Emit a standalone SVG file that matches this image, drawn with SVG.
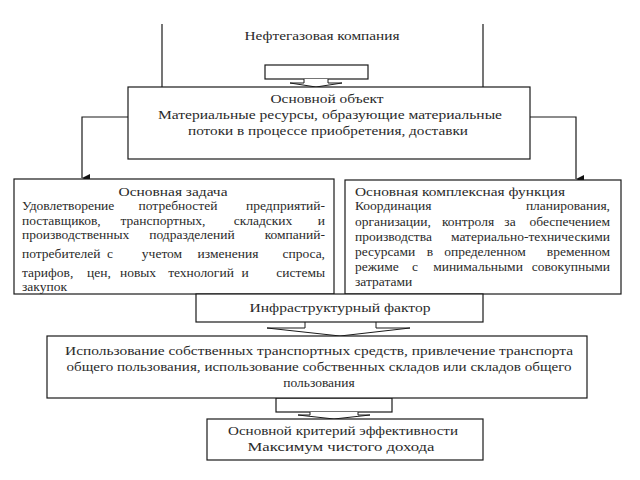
<svg xmlns="http://www.w3.org/2000/svg" width="640" height="480" viewBox="0 0 640 480">
<defs>
<style>
.box{fill:#fff;stroke:#1a1a1a;stroke-width:1.2}
.ln{fill:none;stroke:#1a1a1a;stroke-width:1.2}
.blk{fill:#fff;stroke:#1a1a1a;stroke-width:1}
text{font-family:"Liberation Serif","Times New Roman",serif;font-size:13.5px;fill:#2a2a2a}
.c{text-anchor:middle}
.e{text-anchor:end}
</style>
<marker id="ah" viewBox="0 0 10 10" refX="5" refY="10" markerWidth="8" markerHeight="8" markerUnits="userSpaceOnUse" orient="auto-start-reverse">
<path d="M0,0 L10,0 L5,10 Z" fill="#111"/>
</marker>
</defs>
<rect width="640" height="480" fill="#fff"/>

<g id="company">
<line class="ln" x1="162" y1="24" x2="162" y2="87"/>
<line class="ln" x1="483" y1="24" x2="483" y2="87"/>
<text class="c" x="322" y="40" textLength="155" lengthAdjust="spacingAndGlyphs">Нефтегазовая компания</text>
<rect class="box" x="265" y="65" width="103" height="14"/>
</g>

<g id="connectors">
<path class="blk" d="M304,79 L304,83 L290,83 L316,87 L342,83 L328,83 L328,79"/>
<path class="ln" d="M128,117 L82,117 L82,178" marker-end="url(#ah)"/>
<path class="ln" d="M530,117 L576,117 L576,179" marker-end="url(#ah)"/>
<path class="blk" d="M305,322 L305,328 L267,328 L340,336 L410,328 L376,328 L376,322"/>
<rect class="box" x="276" y="398" width="116" height="14"/>
<path class="blk" d="M310,412 L310,415 L298,415 L334,419 L370,415 L358,415 L358,412"/>
</g>

<g id="object">
<rect class="box" x="128" y="87" width="402" height="72"/>
<text class="c" x="327" y="103" textLength="113" lengthAdjust="spacingAndGlyphs">Основной объект</text>
<text class="c" x="330" y="119" textLength="344" lengthAdjust="spacingAndGlyphs">Материальные ресурсы, образующие  материальные</text>
<text class="c" x="328" y="135" textLength="280" lengthAdjust="spacingAndGlyphs">потоки в процессе приобретения, доставки</text>
</g>

<g id="task">
<rect class="box" x="14" y="179" width="320" height="115"/>
<text class="c" x="173" y="196" textLength="109" lengthAdjust="spacingAndGlyphs">Основная задача</text>
<text y="210"><tspan x="22">Удовлетворение</tspan><tspan x="178" class="c">потребностей</tspan><tspan x="325" class="e">предприятий-</tspan></text>
<text y="225"><tspan x="22">поставщиков,</tspan><tspan x="163" class="c">транспортных,</tspan><tspan x="263" class="c">складских</tspan><tspan x="325" class="e">и</tspan></text>
<text y="239"><tspan x="22">производственных</tspan><tspan x="192" class="c">подразделений</tspan><tspan x="325" class="e">компаний-</tspan></text>
<text y="258"><tspan x="22">потребителей</tspan><tspan x="110" class="c">с</tspan><tspan x="162" class="c">учетом</tspan><tspan x="228" class="c">изменения</tspan><tspan x="325" class="e">спроса,</tspan></text>
<text y="277"><tspan x="22">тарифов,</tspan><tspan x="99" class="c">цен,</tspan><tspan x="138" class="c">новых</tspan><tspan x="201" class="c">технологий</tspan><tspan x="245" class="c">и</tspan><tspan x="325" class="e">системы</tspan></text>
<text x="22" y="291">закупок</text>
</g>

<g id="function">
<rect class="box" x="345" y="180" width="276" height="114"/>
<text x="355" y="196" textLength="210" lengthAdjust="spacingAndGlyphs">Основная комплексная функция</text>
<text y="210"><tspan x="355">Координация</tspan><tspan x="610" class="e">планирования,</tspan></text>
<text y="226"><tspan x="355">организации,</tspan><tspan x="468" class="c">контроля</tspan><tspan x="510" class="c">за</tspan><tspan x="610" class="e">обеспечением</tspan></text>
<text y="241"><tspan x="355">производства</tspan><tspan x="610" class="e">материально-техническими</tspan></text>
<text y="256"><tspan x="355">ресурсами</tspan><tspan x="430" class="c">в</tspan><tspan x="485" class="c">определенном</tspan><tspan x="610" class="e">временном</tspan></text>
<text y="271"><tspan x="355">режиме</tspan><tspan x="415" class="c">с</tspan><tspan x="478" class="c">минимальными</tspan><tspan x="610" class="e">совокупными</tspan></text>
<text x="355" y="286">затратами</text>
</g>

<g id="infra">
<rect class="box" x="196" y="294" width="287" height="28"/>
<text class="c" x="340" y="312" textLength="181" lengthAdjust="spacingAndGlyphs">Инфраструктурный фактор</text>
</g>

<g id="means">
<rect class="box" x="47" y="336" width="540" height="62"/>
<text class="c" x="319" y="355" textLength="508" lengthAdjust="spacingAndGlyphs">Использование собственных транспортных средств, привлечение транспорта</text>
<text class="c" x="319" y="371" textLength="505" lengthAdjust="spacingAndGlyphs">общего пользования, использование собственных складов или складов общего</text>
<text class="c" x="319" y="387">пользования</text>
</g>

<g id="criterion">
<rect class="box" x="207" y="419" width="276" height="41"/>
<text class="c" x="343" y="435" textLength="230" lengthAdjust="spacingAndGlyphs">Основной критерий эффективности</text>
<text class="c" x="341" y="451" textLength="187" lengthAdjust="spacingAndGlyphs">Максимум чистого дохода</text>
</g>
</svg>
